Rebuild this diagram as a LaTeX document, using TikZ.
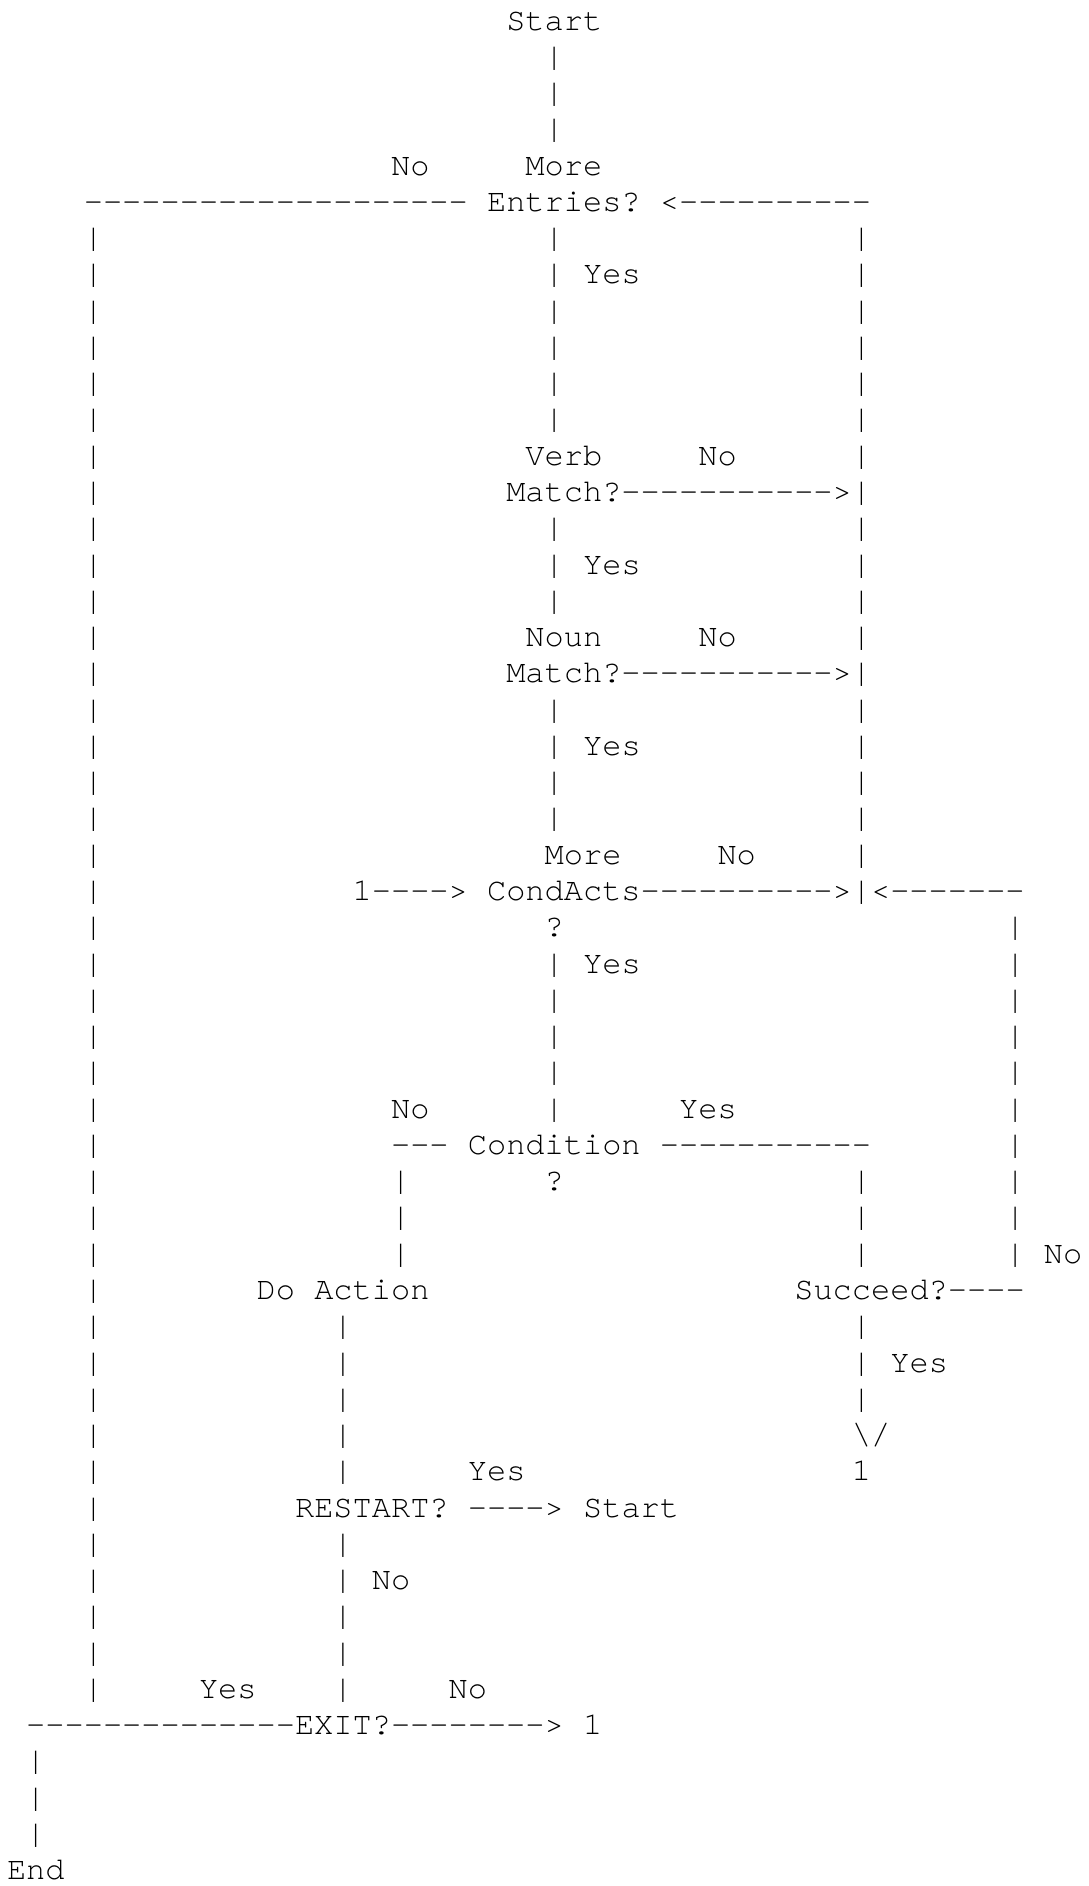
\documentclass[tikz,border=0pt]{standalone}
\usepackage{fontspec}
\setmonofont{TeX Gyre Cursor}
\tikzset{
  asc/.style={font=\ttfamily\fontsize{16pt}{18pt}\selectfont, anchor=base west, inner sep=0pt, outer sep=0pt, text=black}
}
% place text #3 at row #1 (1 = top line) and column #2 (0 = left)
\newcommand\tx[3]{\node[asc] (t-#1-#2) at ({3.5pt+#2*9.6016pt},{-15pt-(#1-1)*18.135pt}) {#3};}
\begin{document}
\begin{tikzpicture}
\fill[white] (0,0) rectangle (544pt,-943pt);
\useasboundingbox (0,0) rectangle (544pt,-943pt);
% ---- vertical strokes
\foreach \r in {7,...,47} {\tx{\r}{4}{|}}
\foreach \r in {2,3,4,7,8,9,10,11,12,15,16,17,20,21,22,23,27,28,29,30,31} {\tx{\r}{28}{|}}
\foreach \r in {7,8,9,10,11,12,13,15,16,17,18,20,21,22,23,24,33,34,35,37,38,39} {\tx{\r}{44}{|}}
\foreach \r in {26,...,35} {\tx{\r}{52}{|}}
\foreach \r in {33,34,35} {\tx{\r}{20}{|}}
\foreach \r in {37,38,39,40,41,43,44,45,46,47} {\tx{\r}{17}{|}}
\foreach \r in {49,50,51} {\tx{\r}{1}{|}}
% ---- texts
\tx{1}{26}{Start}
\tx{5}{20}{No}
\tx{5}{27}{More}
\tx{6}{4}{--------------------}
\tx{6}{25}{Entries?}
\tx{6}{34}{<----------}
\tx{8}{30}{Yes}
\tx{13}{27}{Verb}
\tx{13}{36}{No}
\tx{14}{26}{Match?----------->|}
\tx{16}{30}{Yes}
\tx{18}{27}{Noun}
\tx{18}{36}{No}
\tx{19}{26}{Match?----------->|}
\tx{21}{30}{Yes}
\tx{24}{28}{More}
\tx{24}{37}{No}
\tx{25}{18}{1---->}
\tx{25}{25}{CondActs---------->|<-------}
\tx{26}{28}{?}
\tx{27}{30}{Yes}
\tx{31}{20}{No}
\tx{31}{35}{Yes}
\tx{32}{20}{---}
\tx{32}{24}{Condition}
\tx{32}{34}{-----------}
\tx{33}{28}{?}
\tx{35}{54}{No}
\tx{36}{13}{Do}
\tx{36}{16}{Action}
\tx{36}{41}{Succeed?----}
\tx{38}{46}{Yes}
\tx{40}{44}{\textbackslash/}
\tx{41}{24}{Yes}
\tx{41}{44}{1}
\tx{42}{15}{RESTART?}
\tx{42}{24}{---->}
\tx{42}{30}{Start}
\tx{44}{19}{No}
\tx{47}{10}{Yes}
\tx{47}{23}{No}
\tx{48}{1}{--------------EXIT?-------->}
\tx{48}{30}{1}
\tx{52}{0}{End}
\end{tikzpicture}
\end{document}
